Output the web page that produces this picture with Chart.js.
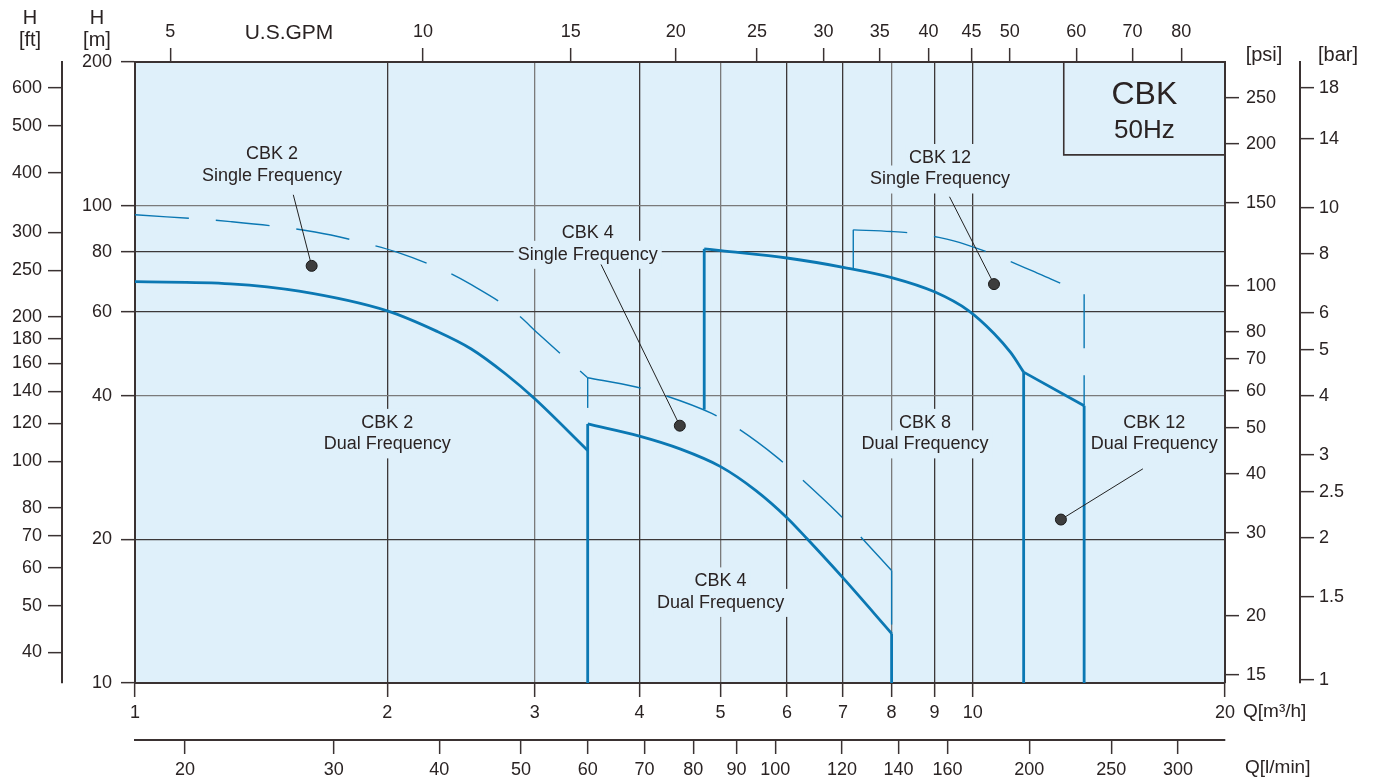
<!DOCTYPE html>
<html>
<head>
<meta charset="utf-8">
<title>CBK 50Hz</title>
<script src="https://cdn.jsdelivr.net/npm/chart.js@4.4.1/dist/chart.umd.min.js"></script>
<style>
    html, body { margin: 0; padding: 0; background: #ffffff; overflow: hidden; }
    #chart { display: block; }
</style>
</head>
<body>
<canvas id="chart" width="1378" height="782"></canvas>
<script>
// Tick values of every axis
const flowTicks = [1, 2, 3, 4, 5, 6, 7, 8, 9, 10, 20];                 // Q [m3/h]
const gpmTicks = [5, 10, 15, 20, 25, 30, 35, 40, 45, 50, 60, 70, 80];   // U.S.GPM
const lminTicks = [20, 30, 40, 50, 60, 70, 80, 90, 100, 120, 140, 160, 200, 250, 300];
const headTicks = [10, 20, 40, 60, 80, 100, 200];                       // H [m]
const feetTicks = [40, 50, 60, 70, 80, 100, 120, 140, 160, 180, 200, 250, 300, 400, 500, 600];
const psiTicks = [15, 20, 30, 40, 50, 60, 70, 80, 100, 150, 200, 250];
const barTicks = [1, 1.5, 2, 2.5, 3, 4, 5, 6, 8, 10, 14, 18];

// Pump curves, [Q m3/h, H m]
const cbk2Dual = [[1, 69.3], [1.3, 68.6], [1.57, 66.2], [2, 60.2], [2.29, 54.6], [2.52, 50.1], [2.77, 44.4], [3, 39.4], [3.47, 30.7]];
const cbk4Dual = [[3.47, 34.9], [4, 32.9], [4.48, 30.9], [5, 28.4], [5.51, 25.3], [6, 22.2], [6.35, 20], [7, 16.6], [8, 12.7]];
const cbk8Dual = [[4.78, 81.2], [5, 80.5], [6, 77.7], [7.03, 74.2], [8, 70.7], [9, 66], [9.88, 60.3], [10.6, 54], [11.1, 49.2], [11.5, 44.8]];
const cbk12Dual = [[11.5, 44.8], [13.58, 38.1]];

const cbk2Single = [[1, 95.7], [1.3, 92.6], [1.64, 88.1], [1.9, 83.1], [2.05, 80], [2.36, 72.6], [2.52, 68.3], [2.86, 59.2], [3.03, 53.9], [3.47, 43.6]];
const cbk4Single = [[3.47, 43.6], [3.94, 41.8], [4.24, 40.3], [4.88, 36.7], [5.21, 34.4], [5.84, 29.7], [6.18, 27.2], [6.9, 22.7], [7.28, 20.6], [8, 17.2]];
const cbk12Single = [[7.2, 89], [8, 88.3], [8.36, 87.8], [9.11, 85.8], [9.49, 84.4], [10.3, 80.5], [10.8, 77.9], [11.8, 72.9], [12.4, 70.2], [13.58, 65.2]];

// Flow limits (vertical curve ends), [Q, H from, H to]
const dualLimits = [[3.47, 10, 34.9], [8, 12.7, 10], [4.78, 37.4, 81.2], [11.5, 10, 44.8], [13.58, 38.1, 10]];
const singleLimits = [[3.47, 37.7, 43.6], [8, 17.2, 12.7], [7.2, 73.8, 89], [13.58, 65.2, 38.1]];

// Styles
const BLUE = '#0b78b3';
const AXIS = '#3a3232';
const TEXT = '#2a2323';
const PLOT_BG = '#dff0fa';
const GRID_DARK = '#3c3838';
const GRID_LIGHT = '#7a7a7a';
const FONT = "'Liberation Sans', Arial, sans-serif";

// Annotation placement, in chart values (Q, H)
const curveLabels = [
    { text: ['CBK 2', 'Single Frequency'], at: [1.457, 121.8], lead: [1.545, 105.4], dot: [1.625, 74.8] },
    { text: ['CBK 4', 'Single Frequency'], at: [3.47, 83.1], lead: [3.6, 75.3], dot: [4.47, 34.6] },
    { text: ['CBK 12', 'Single Frequency'], at: [9.14, 119.5], lead: [9.38, 104.4], dot: [10.6, 68.5] },
    { text: ['CBK 2', 'Dual Frequency'], at: [2, 33.3] },
    { text: ['CBK 4', 'Dual Frequency'], at: [5, 15.5] },
    { text: ['CBK 8', 'Dual Frequency'], at: [8.77, 33.3] },
    { text: ['CBK 12', 'Dual Frequency'], at: [16.47, 33.3], lead: [15.96, 28.1], dot: [12.74, 22.0] }
];
const modelBox = { q: 12.84, h: 127.8 };

/**
 * Build a line dataset from [Q, H] pairs
 */
function curve(points, dashed, straight) {
    return {
        data: points.map(([q, h]) => ({ x: q, y: h })),
        xAxisID: 'x',
        yAxisID: 'y',
        borderColor: BLUE,
        borderWidth: dashed ? 1.4 : 2.8,
        borderDash: dashed ? [54, 27] : [],
        borderCapStyle: 'butt',
        cubicInterpolationMode: straight ? 'default' : 'monotone',
        tension: 0,
        pointRadius: 0,
        pointHoverRadius: 0,
        fill: false
    };
}

function limit([q, h1, h2], dashed) {
    return curve([[q, h1], [q, h2]], dashed, true);
}

/**
 * Log axis with a fixed list of ticks
 */
function makeAxis(cfg) {
    const horizontal = cfg.position === 'top' || cfg.position === 'bottom';
    return {
        type: 'logarithmic',
        axis: horizontal ? 'x' : 'y',
        position: cfg.position,
        weight: cfg.weight,
        min: cfg.min,
        max: cfg.max,
        afterBuildTicks: scale => {
            scale.ticks = cfg.values.map(v => ({ value: v }));
        },
        afterFit: scale => {
            if (horizontal) scale.height = cfg.size;
            else scale.width = cfg.size;
        },
        ticks: {
            autoSkip: false,
            maxRotation: 0,
            minRotation: 0,
            padding: cfg.padding,
            color: TEXT,
            font: { family: FONT, size: 18 },
            callback: v => String(v)
        },
        grid: {
            drawOnChartArea: !!cfg.gridColor,
            color: ctx => cfg.gridColor ? cfg.gridColor(ctx.tick ? ctx.tick.value : null) : 'rgba(0,0,0,0)',
            lineWidth: 1.3,
            tickLength: 14,
            tickColor: AXIS,
            tickWidth: 1.5
        },
        border: { display: true, color: AXIS, width: 2 }
    };
}

const chartDecor = {
    id: 'chartDecor',
    beforeDraw(chart) {
        const { ctx, chartArea: a } = chart;
        ctx.save();
        ctx.fillStyle = PLOT_BG;
        ctx.fillRect(a.left, a.top, a.right - a.left, a.bottom - a.top);
        ctx.restore();
    },
    beforeDatasetsDraw(chart) {
        const { ctx, chartArea: a, scales } = chart;
        ctx.save();
        ctx.font = `18px ${FONT}`;
        ctx.textAlign = 'center';
        ctx.textBaseline = 'middle';
        curveLabels.forEach(l => {
            const cx = scales.x.getPixelForValue(l.at[0]);
            const cy = scales.y.getPixelForValue(l.at[1]);
            l.text.forEach((t, i) => {
                const w = ctx.measureText(t).width;
                ctx.fillStyle = PLOT_BG;
                ctx.fillRect(cx - w / 2 - 4, cy + (i - 0.5) * 21.5 - 14, w + 8, 28);
            });
            ctx.fillStyle = TEXT;
            l.text.forEach((t, i) => ctx.fillText(t, cx, cy + (i - 0.5) * 21.5));
        });

        // model box in the top right corner
        const bx = scales.x.getPixelForValue(modelBox.q);
        const by = scales.y.getPixelForValue(modelBox.h);
        ctx.strokeStyle = AXIS;
        ctx.lineWidth = 1.6;
        ctx.beginPath();
        ctx.moveTo(bx, a.top);
        ctx.lineTo(bx, by);
        ctx.lineTo(a.right, by);
        ctx.stroke();
        const mx = (bx + a.right) / 2;
        ctx.fillStyle = TEXT;
        ctx.font = `32px ${FONT}`;
        ctx.fillText('CBK', mx, a.top + 33);
        ctx.font = `26px ${FONT}`;
        ctx.fillText('50Hz', mx, a.top + 69);
        ctx.restore();
    },
    afterDatasetsDraw(chart) {
        const { ctx, scales } = chart;
        ctx.save();
        curveLabels.filter(l => l.dot).forEach(l => {
            const x1 = scales.x.getPixelForValue(l.lead[0]);
            const y1 = scales.y.getPixelForValue(l.lead[1]);
            const x2 = scales.x.getPixelForValue(l.dot[0]);
            const y2 = scales.y.getPixelForValue(l.dot[1]);
            ctx.strokeStyle = '#222222';
            ctx.lineWidth = 1;
            ctx.beginPath();
            ctx.moveTo(x1, y1);
            ctx.lineTo(x2, y2);
            ctx.stroke();
            ctx.beginPath();
            ctx.arc(x2, y2, 5.5, 0, Math.PI * 2);
            ctx.fillStyle = '#3d3d3d';
            ctx.fill();
            ctx.strokeStyle = '#1a1a1a';
            ctx.stroke();
        });
        ctx.restore();
    },
    afterDraw(chart) {
        const { ctx, chartArea: a, scales } = chart;
        ctx.save();
        ctx.fillStyle = TEXT;
        ctx.textBaseline = 'middle';
        ctx.textAlign = 'center';
        ctx.font = `20px ${FONT}`;
        const ftX = scales.yFt.right - 32;
        const mX = scales.y.right - 38;
        ctx.fillText('H', ftX, 18);
        ctx.fillText('[ft]', ftX, 40);
        ctx.fillText('H', mX, 18);
        ctx.fillText('[m]', mX, 40);
        ctx.fillText('[psi]', scales.yPsi.left + 39, 55);
        ctx.fillText('[bar]', scales.yBar.left + 38, 55);
        ctx.font = `21px ${FONT}`;
        ctx.fillText('U.S.GPM', a.left + 154, 33);
        ctx.textAlign = 'left';
        ctx.font = `19px ${FONT}`;
        ctx.fillText('Q[m\u00B3/h]', a.right + 18, a.bottom + 29);
        ctx.fillText('Q[l/min]', a.right + 20, a.bottom + 85);
        ctx.restore();
    }
};

const datasets = [
    curve(cbk2Single, true),
    curve(cbk4Single, true),
    curve(cbk12Single, true),
    ...singleLimits.map(l => limit(l, true)),
    curve(cbk2Dual, false),
    curve(cbk4Dual, false),
    curve(cbk8Dual, false),
    curve(cbk12Dual, false, true),
    ...dualLimits.map(l => limit(l, false))
];

const qGrid = v => (v === 1 || v === 20) ? 'rgba(0,0,0,0)' : ([3, 5, 8].includes(v) ? GRID_LIGHT : GRID_DARK);
const hGrid = v => (v === 10 || v === 200) ? 'rgba(0,0,0,0)' : ([40, 100].includes(v) ? GRID_LIGHT : GRID_DARK);

new Chart(document.getElementById('chart').getContext('2d'), {
    type: 'line',
    data: { datasets },
    options: {
        responsive: false,
        animation: false,
        devicePixelRatio: 1,
        layout: { padding: 0 },
        plugins: {
            legend: { display: false },
            tooltip: { enabled: false }
        },
        scales: {
            x: makeAxis({ position: 'bottom', weight: 0, min: 1, max: 20, values: flowTicks, size: 57, padding: 5, gridColor: qGrid }),
            xLmin: makeAxis({ position: 'bottom', weight: 1, min: 17.45, max: 341, values: lminTicks, size: 42, padding: 5 }),
            xGpm: makeAxis({ position: 'top', weight: 0, min: 4.54, max: 90.2, values: gpmTicks, size: 62, padding: 5 }),
            y: makeAxis({ position: 'left', weight: 0, min: 10, max: 200, values: headTicks, size: 73, padding: 9, gridColor: hGrid }),
            yFt: makeAxis({ position: 'left', weight: 1, min: 34.5, max: 680, values: feetTicks, size: 62, padding: 6 }),
            yPsi: makeAxis({ position: 'right', weight: 0, min: 14.42, max: 298, values: psiTicks, size: 75, padding: 7 }),
            yBar: makeAxis({ position: 'right', weight: 1, min: 0.985, max: 20.4, values: barTicks, size: 78, padding: 5 })
        }
    },
    plugins: [chartDecor]
});
</script>
</body>
</html>
